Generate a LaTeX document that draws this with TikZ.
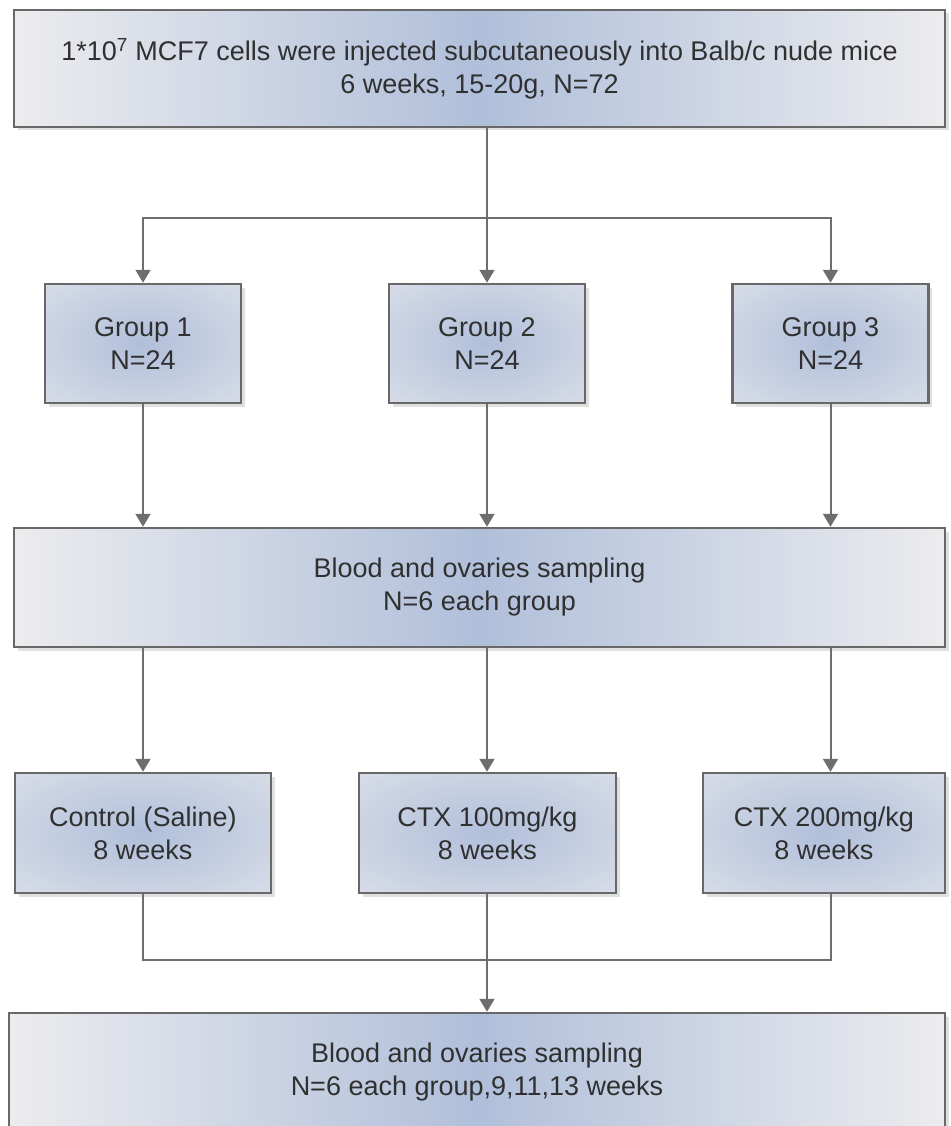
\documentclass[tikz,border=0pt]{standalone}
\usepackage{fontspec}
\setmainfont{Liberation Sans}
\usetikzlibrary{arrows.meta,shadows}
\definecolor{boxline}{HTML}{686868}
\definecolor{linkgray}{HTML}{6E6E6E}
\definecolor{textgray}{HTML}{303030}
\definecolor{edgegray}{HTML}{ECECEE}
\definecolor{midblue}{HTML}{B0BFDA}
\pgfdeclareradialshading{boxglow}{\pgfpoint{0bp}{0bp}}{%
  color(0bp)=(midblue); color(54bp)=(edgegray); color(72bp)=(edgegray)}
\begin{document}
\begin{tikzpicture}[x=1pt,y=-1pt,
    font=\fontsize{27}{33}\selectfont,
    every node/.style={align=center,text=textgray,inner sep=0pt},
    box/.style={draw=boxline,line width=2.5pt,
      drop shadow={fill=black!12,opacity=1,shadow xshift=3.5pt,shadow yshift=-3.5pt}},
    wide/.style={box,left color=edgegray,right color=edgegray,middle color=midblue},
    small/.style={box,shading=boxglow},
    link/.style={draw=linkgray,line width=2pt},
    arr/.style={link,-{Triangle[width=15pt,length=13pt]}}]
  \clip (0,0) rectangle (950,1126);
  \node[wide,minimum width=931pt,minimum height=117pt] (inject) at (479.5,68.5)
    {1*10\textsuperscript{7} MCF7 cells were injected subcutaneously into Balb/c nude mice\\
     6 weeks, 15-20g, N=72};
  \node[small,minimum width=196pt,minimum height=119pt] (group1) at (143,343.5) {Group 1\\N=24};
  \node[small,minimum width=196pt,minimum height=119pt] (group2) at (487,343.5) {Group 2\\N=24};
  \node[small,minimum width=196pt,minimum height=119pt] (group3) at (830.5,343.5) {Group 3\\N=24};
  \node[wide,minimum width=931pt,minimum height=119pt] (sample1) at (479.5,587.5)
    {Blood and ovaries sampling\\N=6 each group};
  \node[small,minimum width=256pt,minimum height=120pt] (ctrl) at (143,833) {Control (Saline)\\8 weeks};
  \node[small,minimum width=257pt,minimum height=120pt] (ctx100) at (487.5,833) {CTX 100mg/kg\\8 weeks};
  \node[small,minimum width=242pt,minimum height=120pt] (ctx200) at (824,833) {CTX 200mg/kg\\8 weeks};
  \node[wide,minimum width=936pt,minimum height=118pt] (sample2) at (477,1072)
    {Blood and ovaries sampling\\N=6 each group,9,11,13 weeks};
  % split into three groups
  \path (group2.north |- inject.south) ++(0,90) coordinate (split);
  \draw[arr] (group2.north |- inject.south) -- (group2.north);
  \draw[arr] (split) -| (group1.north);
  \draw[arr] (split) -| (group3.north);
  \draw[arr] (group1.south) -- (group1.south |- sample1.north);
  \draw[arr] (group2.south) -- (group2.south |- sample1.north);
  \draw[arr] (group3.south) -- (group3.south |- sample1.north);
  \draw[arr] (group1.south |- sample1.south) -- (group1.south |- ctrl.north);
  \draw[arr] (group2.south |- sample1.south) -- (group2.south |- ctx100.north);
  \draw[arr] (group3.south |- sample1.south) -- (group3.south |- ctx200.north);
  % join again
  \path (group2.south |- ctx100.south) ++(0,66) coordinate (join);
  \draw[link] (ctrl.south) |- (join) -| (group3.south |- ctx200.south);
  \draw[arr] (group2.south |- ctx100.south) -- (group2.south |- sample2.north);
\end{tikzpicture}
\end{document}
